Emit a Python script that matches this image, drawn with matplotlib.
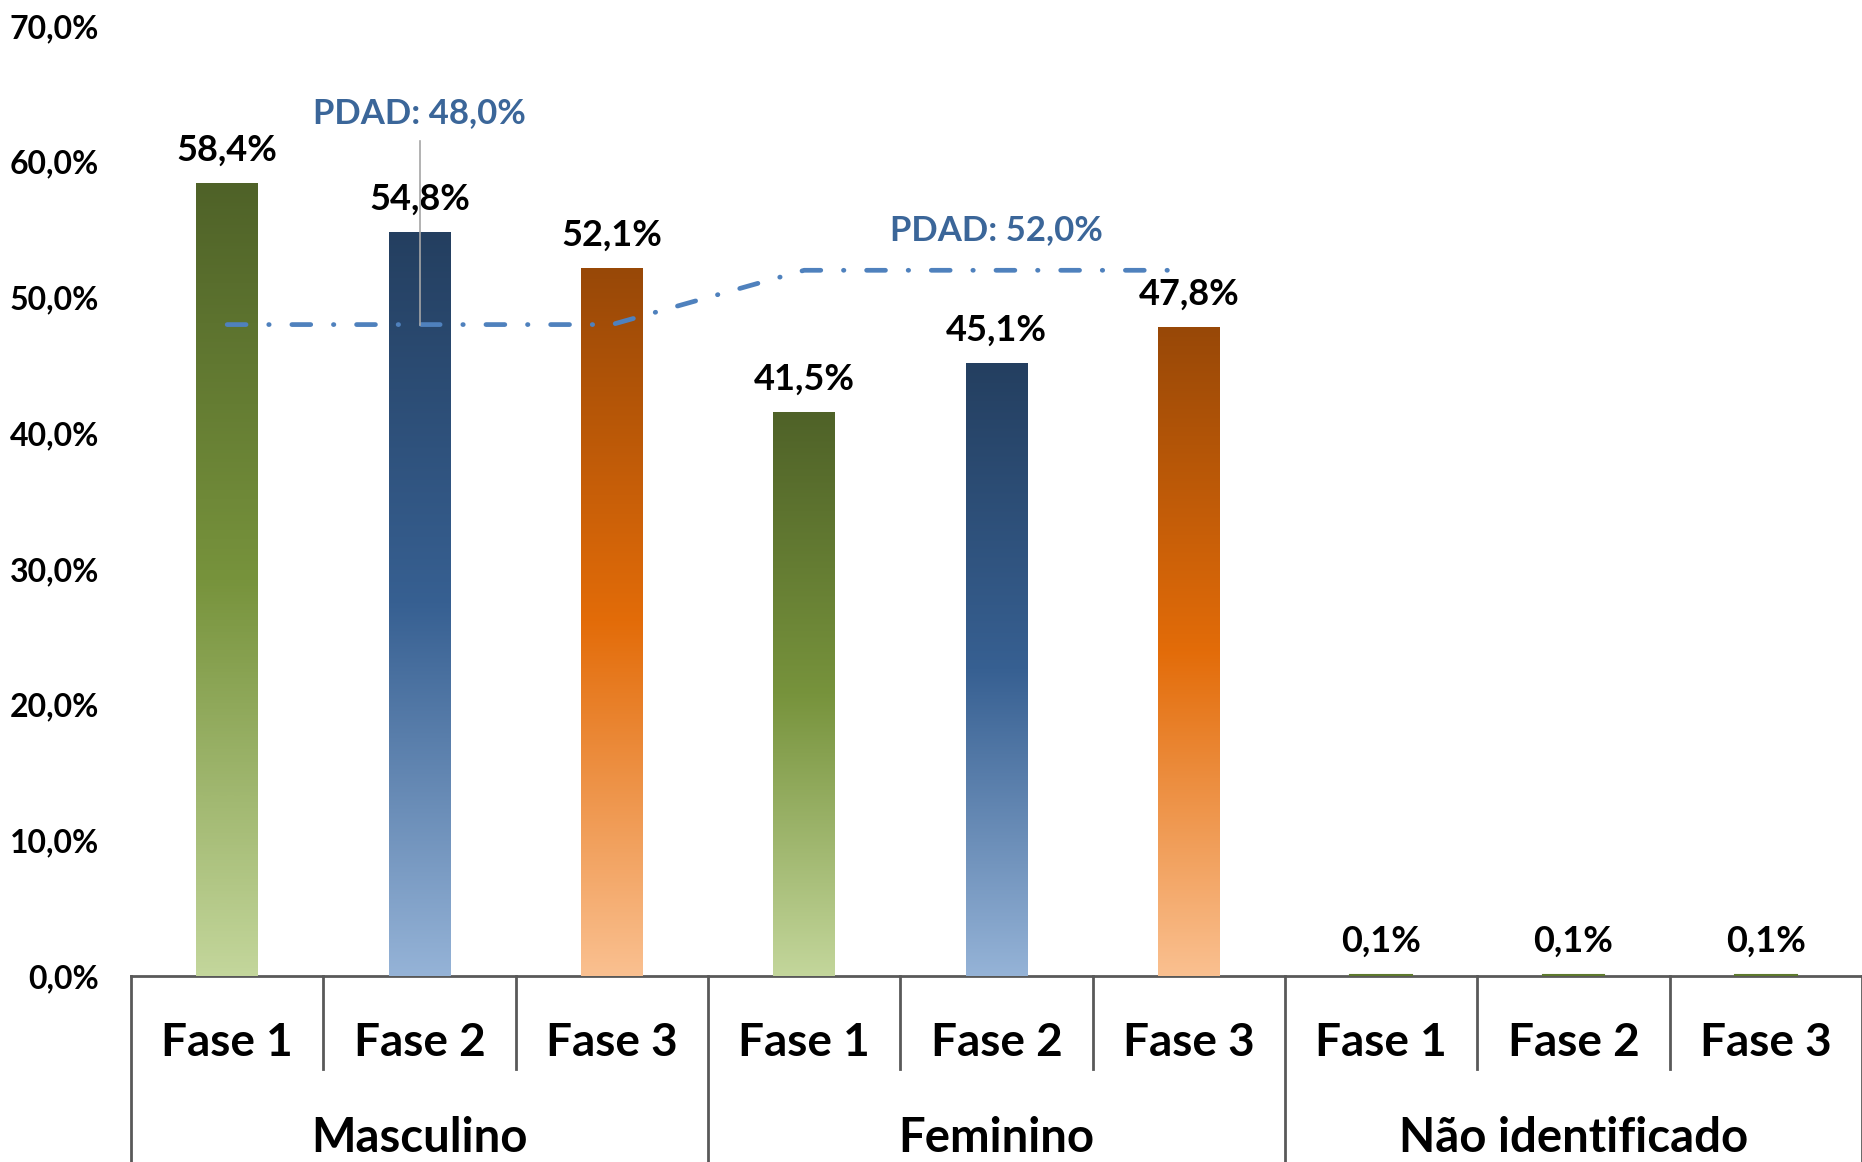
"""Bar chart by sex and phase, with PDAD reference line."""

import numpy as np
import matplotlib
matplotlib.use("Agg")
import matplotlib.pyplot as plt
from matplotlib.colors import LinearSegmentedColormap
from matplotlib.transforms import blended_transform_factory

# Data
groups = ["Masculino", "Feminino", "Não identificado"]
phases = ["Fase 1", "Fase 2", "Fase 3"]
values = [58.4, 54.8, 52.1, 41.5, 45.1, 47.8, 0.1, 0.1, 0.1]
bar_styles = ["green", "blue", "orange", "green", "blue", "orange", "green", "green", "green"]
pdad_values = [48.0, 48.0, 48.0, 52.0, 52.0, 52.0]
pdad_labels = ["PDAD: 48,0%", "PDAD: 52,0%"]
yticks = [0, 10, 20, 30, 40, 50, 60, 70]

# gradient stops: bottom (light), middle, top (dark)
gradients = {
    "green": ["#C3D69B", "#77933C", "#4F6228"],
    "blue": ["#95B3D7", "#376092", "#243F60"],
    "orange": ["#FAC090", "#E36C09", "#984807"],
}

plt.rcParams["font.family"] = ["Lato", "DejaVu Sans"]
plt.rcParams["font.weight"] = "bold"

fig = plt.figure(figsize=(18.62, 11.62), dpi=100)
ax = fig.add_axes([131 / 1862, 186 / 1162, 1 - 131 / 1862, 950 / 1162])

x = np.arange(len(values))
# tiny bars get an outline so they stay visible on the axis line
edges = ["#5E7A2E" if v < 1 else "none" for v in values]
bars = ax.bar(x, values, width=0.32, color="none", edgecolor=edges,
              linewidth=1.5, zorder=3)

# gradient fill for each bar
grad = np.linspace(0, 1, 256).reshape(-1, 1)
for bar, style in zip(bars, bar_styles):
    cmap = LinearSegmentedColormap.from_list(style, gradients[style])
    x0, y0 = bar.get_x(), bar.get_y()
    w, h = bar.get_width(), bar.get_height()
    ax.imshow(grad, cmap=cmap, origin="lower", aspect="auto",
              extent=[x0, x0 + w, y0, y0 + h], zorder=2,
              interpolation="bilinear")

# data labels
for xi, v in zip(x, values):
    ax.annotate(f"{v:.1f}%".replace(".", ","), (xi, v), xytext=(0, 24),
                textcoords="offset points", ha="center", va="center",
                fontsize=26, fontweight="bold", color="black")

# PDAD reference line
ax.plot(x[:len(pdad_values)], pdad_values, color="#4F81BD", lw=3.4,
        linestyle=(0, (4.0, 4.8, 0.1, 4.8)), dash_capstyle="round",
        solid_capstyle="round", zorder=4)
ax.text(1, 63.6, pdad_labels[0], ha="center", va="center", fontsize=25,
        fontweight="bold", color="#3B6699")
ax.plot([1, 1], [48.0, 61.5], color="#A6A6A6", lw=1.2, zorder=5)
ax.text(4, 55.0, pdad_labels[1], ha="center", va="center", fontsize=25,
        fontweight="bold", color="#3B6699")

ax.set_xlim(-0.5, len(values) - 0.5)
ax.set_ylim(0, 70)
ax.set_yticks(yticks)
ax.set_yticklabels([f"{t:.1f}%".replace(".", ",") for t in yticks],
                   fontsize=23, fontweight="bold")
ax.tick_params(axis="y", length=0, pad=23)
ax.set_xticks([])

for side in ["top", "right", "left"]:
    ax.spines[side].set_visible(False)
ax.spines["bottom"].set_color("#595959")
ax.spines["bottom"].set_linewidth(2)
ax.spines["bottom"].set_zorder(1)

# multi-level category axis
trans = blended_transform_factory(ax.transData, ax.transAxes)
for i in range(len(values)):
    ax.text(i, -0.0705, phases[i % 3], transform=trans, ha="center",
            va="center", fontsize=33, fontweight="bold", clip_on=False)
for g, name in enumerate(groups):
    ax.text(g * 3 + 1, -0.171, name, transform=trans, ha="center",
            va="center", fontsize=34, fontweight="bold", clip_on=False)
for b in np.arange(-0.5, len(values), 1.0):
    bottom = -0.2 if (b + 0.5) % 3 == 0 else -0.098
    ax.plot([b, b], [0, bottom], transform=trans, color="#595959", lw=2,
            clip_on=False)

fig.savefig("out.png", dpi=100)
